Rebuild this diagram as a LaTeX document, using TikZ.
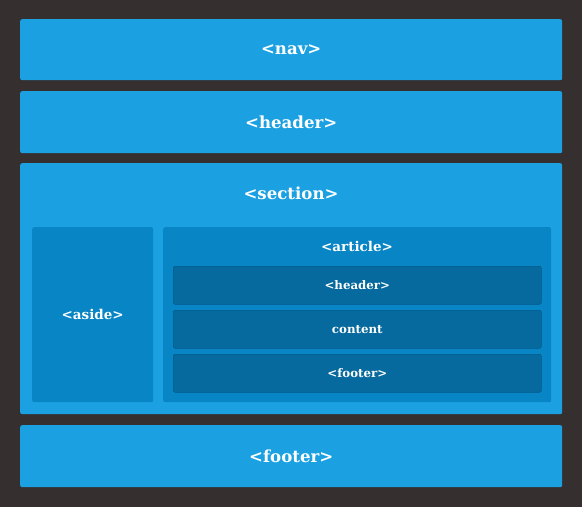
\documentclass[tikz,border=0pt]{standalone}
\usepackage{fontspec}
\setmainfont{DejaVu Serif}
\usetikzlibrary{positioning}
\definecolor{pagegray}{RGB}{53,47,48}
\definecolor{layoutblue}{RGB}{27,161,226}
\definecolor{articleblue}{RGB}{8,133,196}
\definecolor{innerblue}{RGB}{6,106,158}
\definecolor{edgeblue}{RGB}{5,90,140}

\tikzset{
  block/.style={fill=layoutblue, rounded corners=2pt, anchor=north west, inner sep=0pt},
  subblock/.style={fill=articleblue, rounded corners=2pt, anchor=north west, inner sep=0pt},
  innerblock/.style={fill=innerblue, draw=edgeblue, line width=0.6pt, rounded corners=2pt, anchor=north west, inner sep=0pt},
  bigtag/.style={text=white, font=\fontsize{16.6}{19}\selectfont\bfseries},
  midtag/.style={text=white, font=\fontsize{13.5}{16}\selectfont\bfseries},
  smalltag/.style={text=white, font=\fontsize{11.8}{14}\selectfont\bfseries}
}

\begin{document}
\begin{tikzpicture}[x=1pt,y=-1pt]
% page
\fill[pagegray] (0,0) rectangle (582,507);
\useasboundingbox (0,0) rectangle (582,507);
% outer blocks
\node[block, minimum width=542pt, minimum height=61pt] (nav) at (20,19) {};
\node[bigtag] (navtag) at (nav.center) {<nav>};
\node[block, minimum width=542pt, minimum height=62pt] (header) at (20,91) {};
\node[bigtag] (headertag) at (header.center) {<header>};
\node[block, minimum width=542pt, minimum height=251pt] (section) at (20,163) {};
\node[bigtag] (sectiontag) at (291,193) {<section>};
\node[block, minimum width=542pt, minimum height=62pt] (footer) at (20,425) {};
\node[bigtag] (footertag) at (footer.center) {<footer>};
% section contents
\node[subblock, minimum width=121pt, minimum height=175pt] (aside) at (32,227) {};
\node[midtag] (asidetag) at (aside.center) {<aside>};
\node[subblock, minimum width=388pt, minimum height=175pt] (article) at (163,227) {};
\node[midtag] (articletag) at (357,246) {<article>};
% article contents
\node[innerblock, minimum width=368pt, minimum height=38pt] (artheader) at (173,266) {};
\node[smalltag] (artheadertag) at (artheader.center) {<header>};
\node[innerblock, minimum width=368pt, minimum height=38pt] (content) at (173,310) {};
\node[smalltag] (contenttag) at (content.center) {content};
\node[innerblock, minimum width=368pt, minimum height=38pt] (artfooter) at (173,354) {};
\node[smalltag] (artfootertag) at (artfooter.center) {<footer>};
\end{tikzpicture}
\end{document}
